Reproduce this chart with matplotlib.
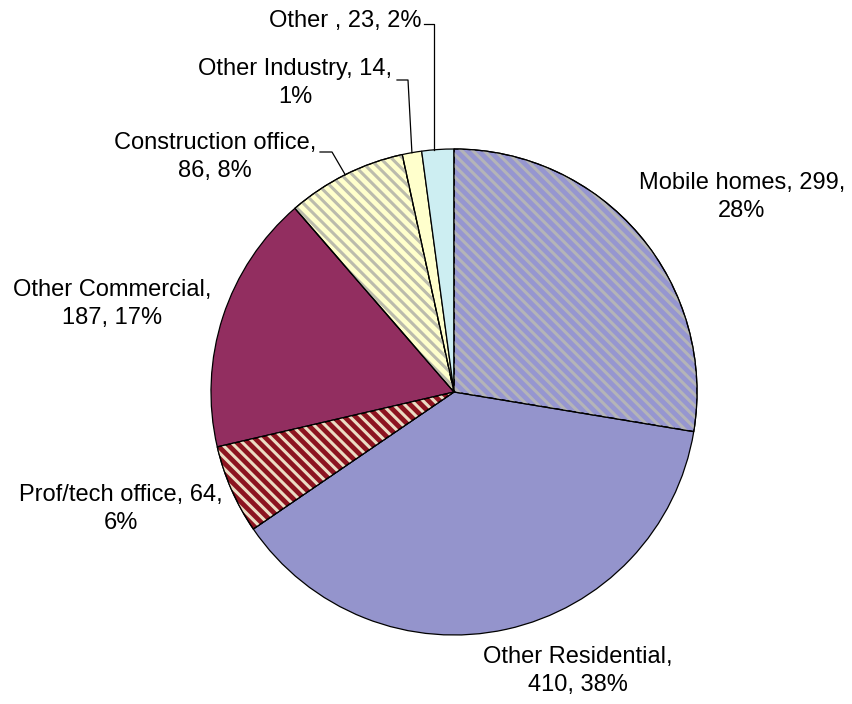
import numpy as np
import matplotlib
matplotlib.use("Agg")
import matplotlib.pyplot as plt
from matplotlib.patches import Wedge

plt.rcParams['font.family'] = ['Liberation Sans', 'DejaVu Sans']
plt.rcParams['hatch.linewidth'] = 2.2

# ---- data ----
categories = ["Mobile homes", "Other Residential", "Prof/tech office",
              "Other Commercial", "Construction office", "Other Industry", "Other "]
values = [299, 410, 64, 187, 86, 14, 23]
percents = ["28%", "38%", "6%", "17%", "8%", "1%", "2%"]

# ---- styles ----
face_colors = ["#9696d0", "#9494cc", "#8c1420", "#922e60", "#ffffcc", "#ffffcc", "#cdeef2"]
hatch_colors = ["#b4b4b8", None, "#ecdcc4", None, "#bcbcac", None, None]
hatches = ["\\\\\\", None, "\\\\\\", None, "\\\\\\", None, None]

W, H = 852, 704
fig = plt.figure(figsize=(W / 100, H / 100), dpi=100)
ax = fig.add_axes([0, 0, 1, 1])

cx, cy, R = 454, H - 392, 243

wedges, _ = ax.pie(values, startangle=90, counterclock=False, colors=face_colors,
                   radius=R, center=(cx, cy),
                   wedgeprops=dict(edgecolor="black", linewidth=0.9))

for w, hc, ht in zip(wedges, hatch_colors, hatches):
    if ht:
        ov = Wedge((cx, cy), R, w.theta1, w.theta2, facecolor="none",
                   edgecolor=hc, linewidth=0, hatch=ht, zorder=w.get_zorder() + 0.1)
        ax.add_patch(ov)
        outline = Wedge((cx, cy), R, w.theta1, w.theta2, facecolor="none",
                        edgecolor="black", linewidth=0.9, zorder=w.get_zorder() + 0.2)
        ax.add_patch(outline)

# ---- labels ----
label_text = [
    f"{categories[0]}, {values[0]},\n{percents[0]}",
    f"{categories[1]},\n{values[1]}, {percents[1]}",
    f"{categories[2]}, {values[2]},\n{percents[2]}",
    f"{categories[3]},\n{values[3]}, {percents[3]}",
    f"{categories[4]},\n{values[4]}, {percents[4]}",
    f"{categories[5]}, {values[5]},\n{percents[5]}",
    f"{categories[6]}, {values[6]}, {percents[6]}",
]
label_pos = [(742, 197), (578, 671), (121, 509), (112, 304), (215, 157), (295, 83), (345, 21)]

for txt, (x, y) in zip(label_text, label_pos):
    ax.text(x, H - y, txt, ha="center", va="center", fontsize=17,
            linespacing=1.4, color="black")

# ---- leader lines (start at text, elbow, end at wedge mid-angle on rim) ----
leaders = {6: [(424, 24), (434, 24)], 5: [(397, 80), (408, 80)], 4: [(320, 152), (332, 152)]}
for i, pts in leaders.items():
    w = wedges[i]
    mid = np.deg2rad((w.theta1 + w.theta2) / 2)
    ex, ey = cx + R * np.cos(mid), cy + R * np.sin(mid)
    xs = [p[0] for p in pts] + [ex]
    ys = [H - p[1] for p in pts] + [ey]
    if i == 6:
        xs[-1] = pts[-1][0]
        ys[-1] = cy + np.sqrt(R**2 - (pts[-1][0] - cx) ** 2)
    ax.plot(xs, ys, color="black", linewidth=0.9, zorder=5)

ax.set_xlim(0, W)
ax.set_ylim(0, H)
ax.axis("off")

fig.savefig("out.png", dpi=100)
